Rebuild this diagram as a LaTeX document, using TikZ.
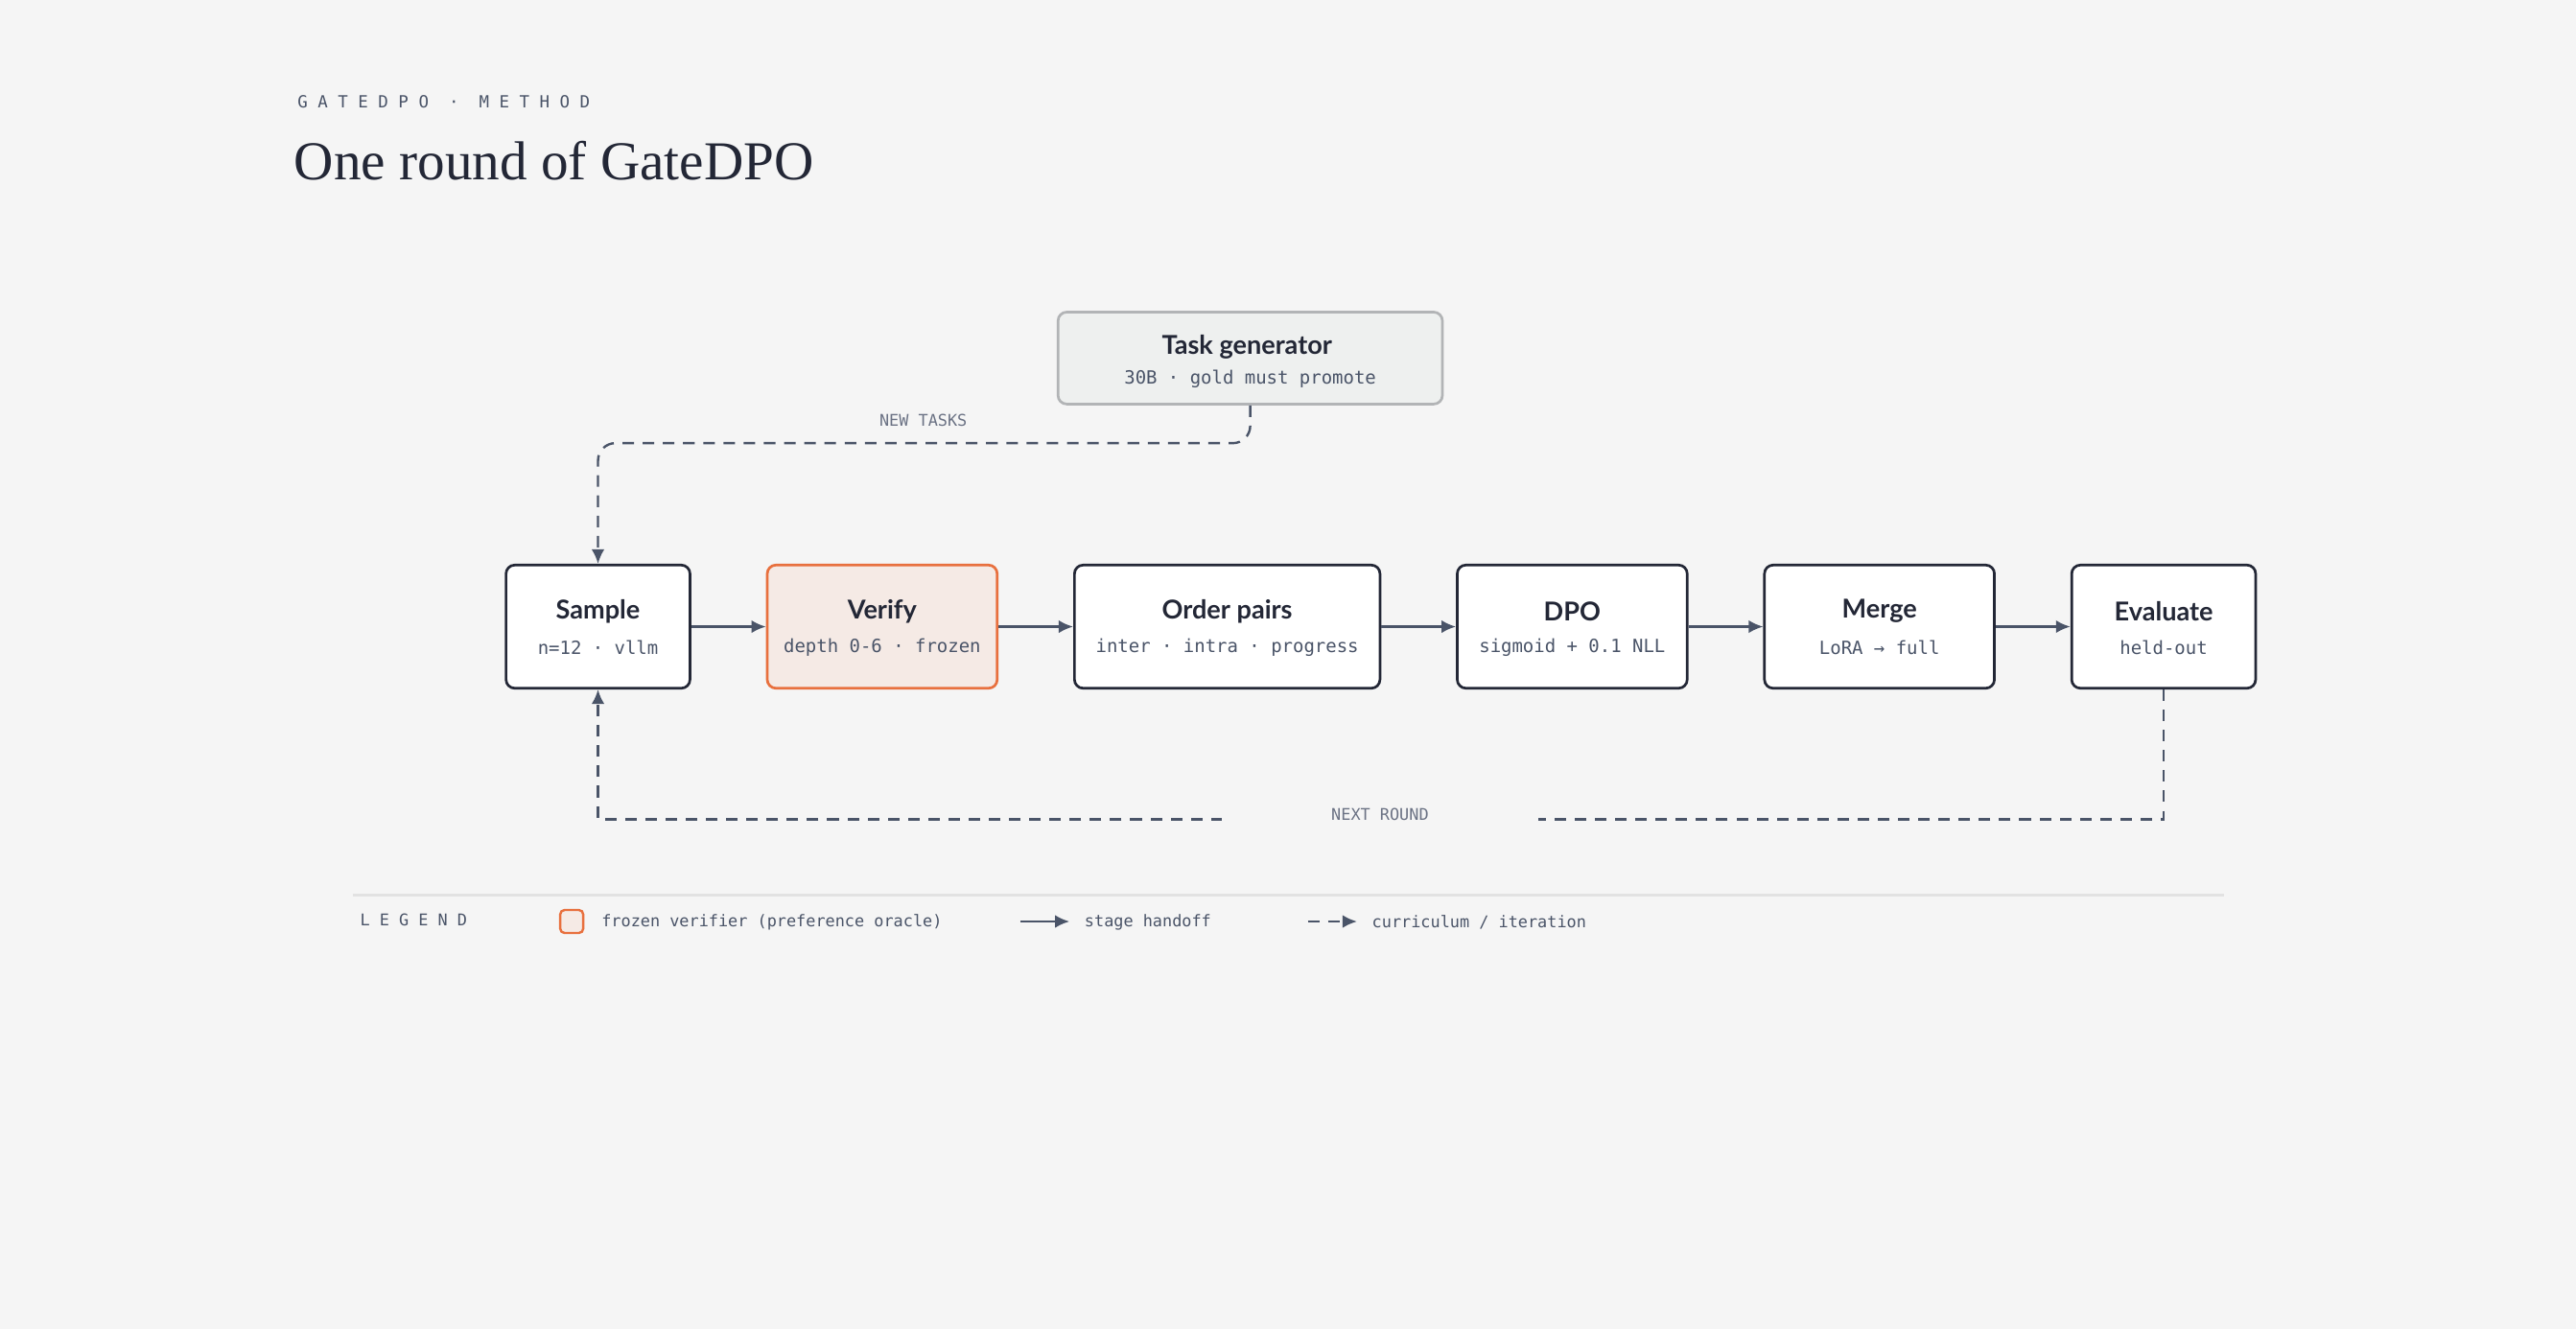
\documentclass[tikz,border=0pt]{standalone}
\usepackage{fontspec}
\setmainfont{Liberation Serif}
\setsansfont{Lato}
\setmonofont{DejaVu Sans Mono}
\usetikzlibrary{arrows.meta,positioning}
\definecolor{bg}{HTML}{F5F5F5}
\definecolor{ink}{HTML}{232736}
\definecolor{slate}{HTML}{4A5468}
\definecolor{mute}{HTML}{6B7284}
\definecolor{orng}{HTML}{E8703E}
\definecolor{peach}{HTML}{F5EAE5}
\definecolor{genfill}{HTML}{EEF0EF}
\definecolor{gengray}{HTML}{B2B4B6}
\definecolor{rule}{HTML}{E2E2E2}

\tikzset{
  stage/.style={draw=ink, fill=white, line width=0.9pt, rounded corners=3pt,
    minimum height=1.5cm, inner sep=0pt},
  hd/.style={font=\sffamily\bfseries\fontsize{9}{10}\selectfont, text=ink},
  sub/.style={font=\ttfamily\fontsize{6.3}{7}\selectfont, text=slate},
  tag/.style={font=\ttfamily\fontsize{5.6}{6}\selectfont, text=mute},
  hand/.style={-{Latex[length=5pt,width=4.5pt]}, draw=slate, line width=0.8pt},
  loop/.style={-{Latex[length=5pt,width=4.5pt]}, draw=slate, line width=0.8pt, dash pattern=on 4pt off 3pt},
}

\begin{document}
\begin{tikzpicture}[x=0.02cm, y=-0.02cm]

      \fill[bg] (0, 0) rectangle (1568, 809);

      \node[anchor=west, font=\ttfamily\fontsize{5.8}{6}\selectfont, text=slate] (kicker) at (175, 62) {G A T E D P O \ · \ M E T H O D};
      \node[anchor=west, font=\fontsize{19}{20}\selectfont, text=ink] (title) at (173, 98) {One round of GateDPO};

      % generator
      \node[stage, draw=gengray, fill=genfill, minimum width=4.68cm, minimum height=1.12cm] (gen) at (761, 218) {};
      \node[hd] at (759, 211) {Task generator};
      \node[sub] at (761, 231) {30B · gold must promote};

      % pipeline
      \node[stage, minimum width=2.24cm] (sample) at (364, 381.5) {};
      \node[stage, draw=orng, fill=peach, minimum width=2.8cm] (verify) at (537, 381.5) {};
      \node[stage, minimum width=3.72cm] (order) at (747, 381.5) {};
      \node[stage, minimum width=2.8cm] (dpo) at (957, 381.5) {};
      \node[stage, minimum width=2.8cm] (merge) at (1144, 381.5) {};
      \node[stage, minimum width=2.24cm] (eval) at (1317, 381.5) {};

      \foreach \n/\t/\s in {sample/Sample/n=12 · vllm, verify/Verify/depth 0-6 · frozen,
          order/Order pairs/inter · intra · progress, dpo/DPO/sigmoid + 0.1 NLL,
          merge/Merge/LoRA → full, eval/Evaluate/held-out} {
        \node[hd] at ([yshift=0.19cm]\n.center) {\t};
        \node[sub] at ([yshift=-0.25cm]\n.center) {\s};
      }

      \draw[hand] (sample) -- (verify);
      \draw[hand] (verify) -- (order);
      \draw[hand] (order) -- (dpo);
      \draw[hand] (dpo) -- (merge);
      \draw[hand] (merge) -- (eval);

      % curriculum loops
      \draw[loop, rounded corners=6pt] (gen.south) -- ++(0, 23) -| (sample.north);
      \node[tag] (newt) at (562, 256) {NEW TASKS};

      \draw[loop] (eval.south) -- ++(0, 79) -| (sample.south);
      \node[tag, fill=bg, inner xsep=38pt] (nextr) at (840, 496) {NEXT ROUND};

      % legend
      \draw[rule, line width=0.8pt] (215, 545) -- (1354, 545);
      \node[tag, anchor=west, text=slate] (leg) at (213, 560) {L E G E N D};
      \node[draw=orng, fill=peach, line width=0.8pt, rounded corners=1.5pt, minimum size=0.28cm, inner sep=0pt] (key) at (348, 561) {};
      \node[sub, anchor=west, font=\ttfamily\fontsize{5.6}{6}\selectfont] (keyt) at (360, 561.5) {frozen verifier (preference oracle)};
      \coordinate (ha) at (621, 561);
      \coordinate (hb) at (651, 561);
      \draw[hand] (ha) -- (hb);
      \node[sub, anchor=west, font=\ttfamily\fontsize{5.6}{6}\selectfont] (hat) at (654, 561.5) {stage handoff};
      \coordinate (la) at (796, 561);
      \coordinate (lb) at (826, 561);
      \draw[loop] (la) -- (lb);
      \node[sub, anchor=west, font=\ttfamily\fontsize{5.6}{6}\selectfont] (lat) at (829, 561.5) {curriculum / iteration};

    \end{tikzpicture}
\end{document}
